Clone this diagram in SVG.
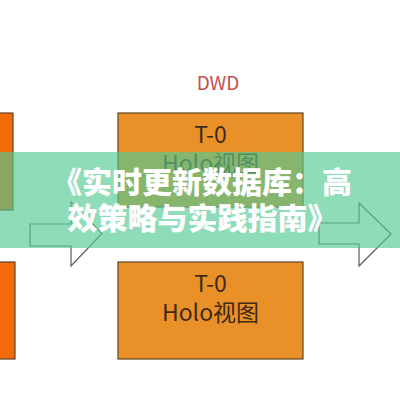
<svg xmlns="http://www.w3.org/2000/svg" width="400" height="400" viewBox="0 0 400 400">
<style>
.box{fill:#ea9028;stroke:#5e4526;stroke-width:1.2}
.side{fill:#f26a0a;stroke:#5e4526;stroke-width:1.2}
.lbl{font-family:"Noto Sans CJK SC","Liberation Sans",sans-serif;font-size:23px;fill:#3e2a16;text-anchor:middle}
.arrow{fill:#ffffff;stroke:#5a5a5a;stroke-width:1.2;stroke-linejoin:miter}
.title{font-family:"Noto Sans CJK SC",sans-serif;font-size:30px;font-weight:900;fill:#ffffff;text-anchor:middle}
</style>
<rect width="400" height="400" fill="#ffffff"/>
<g id="side-top"><rect class="side" x="-2" y="113" width="15" height="97"/></g>
<g id="side-bottom"><rect class="side" x="-2" y="262" width="17" height="97"/></g>
<text id="dwd" x="218" y="90" font-family="Noto Sans CJK SC,Liberation Sans,sans-serif" font-size="19" fill="#c0504d" text-anchor="middle">DWD</text>
<g id="node-top">
<rect class="box" x="118" y="113" width="185" height="94"/>
<text class="lbl" x="210.5" y="143">T-0</text>
<text class="lbl" x="210.5" y="172">Holo视图</text>
</g>
<g id="node-bottom">
<rect class="box" x="118" y="262" width="185" height="97"/>
<text class="lbl" x="210.5" y="292">T-0</text>
<text class="lbl" x="210.5" y="321">Holo视图</text>
</g>
<g id="connectors">
<path class="arrow" d="M30 224 H71 V202 L102 233.5 L71 266 V246 H30 Z"/>
<path class="arrow" d="M319 223 H359 V203 L391 234 L359 266 V244 H319 Z"/>
</g>
<rect id="banner" x="0" y="152" width="400" height="96" fill="rgb(83,201,146)" fill-opacity="0.65"/>
<g id="title">
<text class="title" x="202" y="193">《实时更新数据库：高</text>
<text class="title" x="202.5" y="229">效策略与实践指南》</text>
</g>
</svg>
